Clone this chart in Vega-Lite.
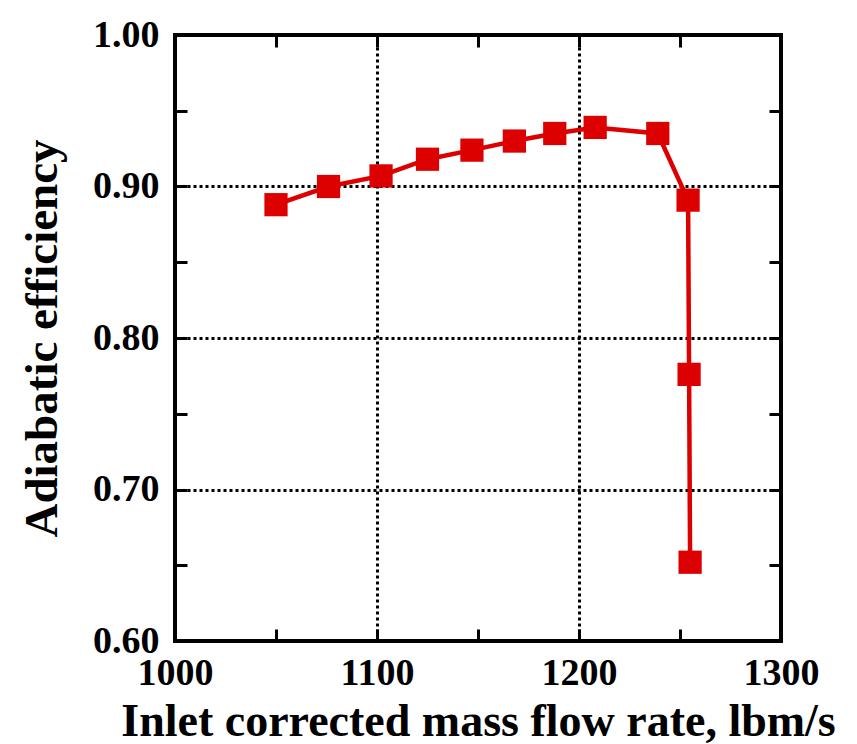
{
  "$schema": "https://vega.github.io/schema/vega-lite/v6.json",
  "width": 606,
  "height": 606,
  "autosize": "none",
  "padding": {"left": 175, "top": 35, "right": 76, "bottom": 103},
  "background": "white",
  "config": {
    "view": {"stroke": "black", "strokeWidth": 4},
    "font": "Liberation Serif",
    "axis": {
      "labelFont": "Liberation Serif",
      "titleFont": "Liberation Serif",
      "labelFontSize": 38,
      "labelFontWeight": "bold",
      "labelColor": "black",
      "titleFontSize": 46,
      "titleFontWeight": "bold",
      "titleColor": "black",
      "domain": false,
      "tickColor": "black",
      "tickWidth": 3,
      "tickSize": -12
    }
  },
  "data": {
    "values": [
      {"flow": 1050, "eff": 0.888},
      {"flow": 1076, "eff": 0.900},
      {"flow": 1102, "eff": 0.907},
      {"flow": 1125, "eff": 0.918},
      {"flow": 1147, "eff": 0.924},
      {"flow": 1168, "eff": 0.930},
      {"flow": 1188, "eff": 0.935},
      {"flow": 1208, "eff": 0.939},
      {"flow": 1239, "eff": 0.935},
      {"flow": 1254, "eff": 0.891},
      {"flow": 1254.5, "eff": 0.776},
      {"flow": 1255, "eff": 0.652}
    ]
  },
  "layer": [
    {
      "mark": {"type": "line", "color": "#DD0000", "strokeWidth": 4.5},
      "encoding": {
        "x": {
          "field": "flow", "type": "quantitative",
          "scale": {"domain": [1000, 1300], "nice": false, "zero": false},
          "axis": {
            "orient": "bottom",
            "title": "Inlet corrected mass flow rate, lbm/s",
            "values": [1000, 1050, 1100, 1150, 1200, 1250, 1300],
            "labelExpr": "datum.value % 100 == 0 ? format(datum.value, 'd') : ''",
            "labelPadding": 25,
            "labelFlush": false,
            "titlePadding": 7,
            "grid": true,
            "gridColor": "black",
            "gridWidth": 3,
            "gridDash": [3, 3],
            "gridOpacity": {"condition": {"test": "datum.value % 100 == 0 && datum.value > 1000 && datum.value < 1300", "value": 1}, "value": 0}
          }
        },
        "y": {
          "field": "eff", "type": "quantitative",
          "scale": {"domain": [0.6, 1.0], "nice": false, "zero": false},
          "axis": {
            "orient": "left",
            "title": "Adiabatic efficiency",
            "titleFontSize": 47,
            "values": [0.6, 0.65, 0.7, 0.75, 0.8, 0.85, 0.9, 0.95, 1.0],
            "labelExpr": "round(datum.value * 100) % 10 == 0 ? format(datum.value, '.2f') : ''",
            "labelPadding": 28,
            "labelFlush": false,
            "titlePadding": 26,
            "grid": true,
            "gridColor": "black",
            "gridWidth": 3,
            "gridDash": [3, 3],
            "gridOpacity": {"condition": {"test": "round(datum.value * 100) % 10 == 0 && datum.value > 0.61 && datum.value < 0.99", "value": 1}, "value": 0}
          }
        }
      }
    },
    {
      "mark": {"type": "point", "shape": "square", "filled": true, "color": "#DD0000", "opacity": 1, "size": 540},
      "encoding": {
        "x": {
          "field": "flow", "type": "quantitative",
          "scale": {"domain": [1000, 1300], "nice": false, "zero": false},
          "axis": {
            "orient": "top",
            "title": null,
            "values": [1000, 1050, 1100, 1150, 1200, 1250, 1300],
            "labels": false,
            "grid": false
          }
        },
        "y": {
          "field": "eff", "type": "quantitative",
          "scale": {"domain": [0.6, 1.0], "nice": false, "zero": false},
          "axis": {
            "orient": "right",
            "title": null,
            "values": [0.6, 0.65, 0.7, 0.75, 0.8, 0.85, 0.9, 0.95, 1.0],
            "labels": false,
            "grid": false
          }
        }
      }
    }
  ],
  "resolve": {"axis": {"x": "independent", "y": "independent"}}
}
